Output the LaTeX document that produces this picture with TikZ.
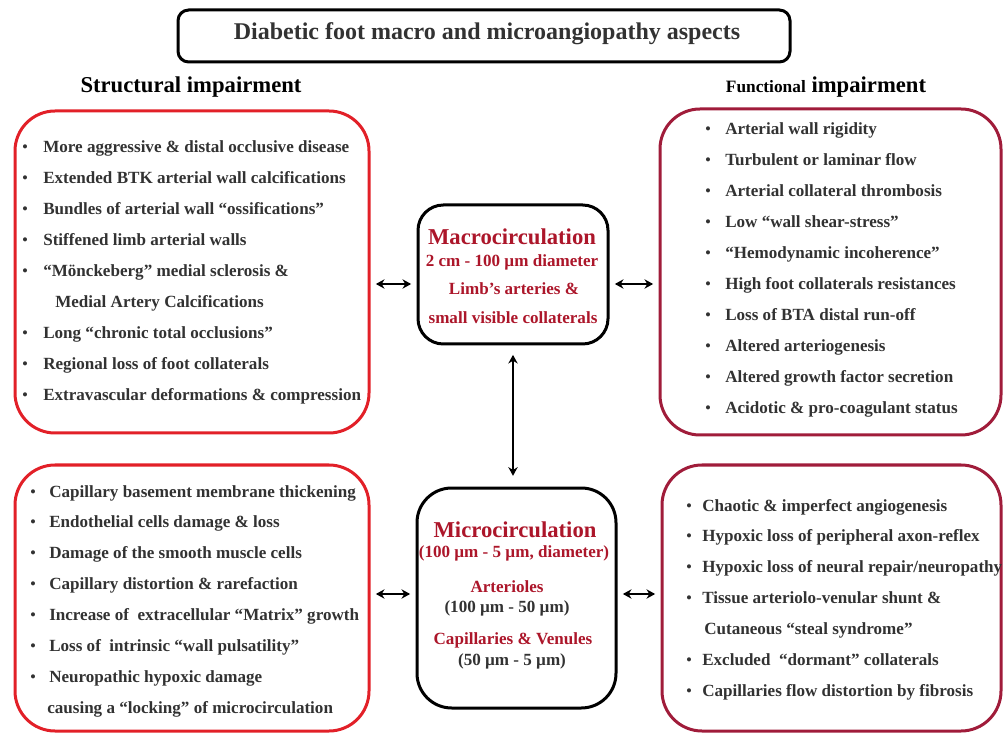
\documentclass[tikz,border=0pt]{standalone}
\usepackage{fontspec}
\setmainfont{Liberation Serif}
\usepackage{xcolor}
\definecolor{structred}{RGB}{226,32,40}
\definecolor{functred}{RGB}{160,28,58}
\definecolor{circred}{RGB}{172,22,42}
\definecolor{bodytext}{RGB}{50,50,50}
\usetikzlibrary{positioning}
\usetikzlibrary{fit}
\usetikzlibrary{arrows.meta}

\begin{document}
\begin{tikzpicture}[x=0.75pt, y=-0.75pt,
    frame/.style={draw, line width=2.25pt, rounded corners=30pt, inner sep=0pt},
    structbox/.style={frame, draw=structred},
    functbox/.style={frame, draw=functred},
    circbox/.style={frame, draw=black, rounded corners=19pt},
    item/.style={anchor=base west, inner sep=0pt, text=bodytext, font=\fontsize{12.8}{15}\selectfont\bfseries},
    dot/.style={anchor=base, inner sep=0pt, text=bodytext, font=\fontsize{12.8}{15}\selectfont},
    circhead/.style={inner sep=0pt, text=circred, font=\fontsize{17}{20}\selectfont\bfseries},
    circline/.style={inner sep=0pt, text=circred, font=\fontsize{12.8}{15}\selectfont\bfseries},
    sizeline/.style={inner sep=0pt, text=bodytext, font=\fontsize{12.8}{15}\selectfont\bfseries},
    link/.style={{Stealth[length=6.5pt,width=7pt]}-{Stealth[length=6.5pt,width=7pt]}, line width=1.5pt, shorten <=4pt, shorten >=4pt}]

    \useasboundingbox (0,0) rectangle (1004,734);

    % title and headings
    \node[frame, draw=black, rounded corners=8pt, fit={(178,10)(790,62)}] (title) {};
    \node[text=bodytext, font=\fontsize{18}{20}\selectfont\bfseries] (titletext) at (487,34) {Diabetic foot macro and microangiopathy aspects};
    \node[font=\fontsize{17}{20}\selectfont\bfseries] (structhead) at (191,87) {Structural impairment};
    \node[font=\fontsize{17}{20}\selectfont\bfseries] (functhead) at (826,87) {{\fontsize{13}{15}\selectfont Functional} impairment};

    % the four lists
    \node[structbox, fit={(15,111)(369,433)}] (structop) {};
    \node[functbox, fit={(660,109)(1001,435)}] (functop) {};
    \node[structbox, fit={(15,465)(369,731)}] (structbot) {};
    \node[functbox, fit={(662,465)(1001,731)}] (functbot) {};

    % the two circulations
    \node[circbox, fit={(418,205)(608,344)}] (macro) {};
    \node[circbox, rounded corners=26pt, fit={(417,488)(616,708)}] (micro) {};

    % structural, macro
    \foreach \n/\txt in {0/More aggressive \& distal occlusive disease,
                         1/Extended BTK arterial wall calcifications,
                         2/Bundles of arterial wall “ossifications”,
                         3/Stiffened limb arterial walls,
                         4/“Mönckeberg” medial sclerosis \&,
                         6/Long “chronic total occlusions”,
                         7/Regional loss of foot collaterals,
                         8/Extravascular deformations \& compression}{
        \node[item] (st-\n) at (43,153+30.9*\n) {\txt};
        \node[dot] (st-dot-\n) at (25,153+30.9*\n) {\textbullet};
    }
    \node[item] (st-5) at (55,153+30.9*5) {Medial Artery Calcifications};

    % functional, macro
    \foreach \n/\txt in {0/Arterial wall rigidity,
                         1/Turbulent or laminar flow,
                         2/Arterial collateral thrombosis,
                         3/Low “wall shear-stress”,
                         4/“Hemodynamic incoherence”,
                         5/High foot collaterals resistances,
                         6/Loss of BTA distal run-off,
                         7/Altered arteriogenesis,
                         8/Altered growth factor secretion,
                         9/Acidotic \& pro-coagulant status}{
        \node[item] (ft-\n) at (725,135+30.9*\n) {\txt};
        \node[dot] (ft-dot-\n) at (708,135+30.9*\n) {\textbullet};
    }

    % structural, micro
    \foreach \n/\txt in {0/Capillary basement membrane thickening,
                         1/Endothelial cells damage \& loss,
                         2/Damage of the smooth muscle cells,
                         3/Capillary distortion \& rarefaction,
                         4/Increase of\ \ extracellular “Matrix” growth,
                         5/Loss of\ \ intrinsic “wall pulsatility”,
                         6/Neuropathic hypoxic damage}{
        \node[item] (sb-\n) at (49,497+30.9*\n) {\txt};
        \node[dot] (sb-dot-\n) at (33,497+30.9*\n) {\textbullet};
    }
    \node[item] (sb-7) at (47,497+30.9*7) {causing a “locking” of microcirculation};

    % functional, micro
    \foreach \n/\txt in {0/Chaotic \& imperfect angiogenesis,
                         1/Hypoxic loss of peripheral axon-reflex,
                         2/{Hypoxic loss of neural repair/neuropathy},
                         3/Tissue arteriolo-venular shunt \&,
                         5/Excluded\ \ “dormant” collaterals,
                         6/Capillaries flow distortion by fibrosis}{
        \node[item] (fb-\n) at (702,511+30.9*\n) {\txt};
        \node[dot] (fb-dot-\n) at (689,511+30.9*\n) {\textbullet};
    }
    \node[item] (fb-4) at (704,511+30.9*4) {Cutaneous “steal syndrome”};

    % texts of the middle boxes
    \node[circhead] (macrohead) at (512,237) {Macrocirculation};
    \node[circline] (macrosize) at (512,262) {2 cm - 100 µm diameter};
    \node[circline] (macroline1) at (514,289) {Limb’s arteries \&};
    \node[circline] (macroline2) at (513,318) {small visible collaterals};

    \node[circhead] (microhead) at (515,530) {Microcirculation};
    \node[circline] (microsize) at (514,553) {(100 µm - 5 µm, diameter)};
    \node[circline] (arterioles) at (507,587) {Arterioles};
    \node[sizeline] (arteriolesize) at (507,608) {(100 µm - 50 µm)};
    \node[circline] (capillaries) at (513,640) {Capillaries \& Venules};
    \node[sizeline] (capillarysize) at (512,661) {(50 µm - 5 µm)};

    % connectors
    \coordinate (ytop) at (0,284);
    \coordinate (ybot) at (0,594);
    \draw[link] (structop.east |- ytop) -- (macro.west |- ytop);
    \draw[link] (macro.east |- ytop) -- (functop.west |- ytop);
    \draw[link, shorten <=7pt, shorten >=8pt] (macro.south) -- (micro.north -| macro.south);
    \draw[link] (structbot.east |- ybot) -- (micro.west |- ybot);
    \draw[link] (micro.east |- ybot) -- (functbot.west |- ybot);

\end{tikzpicture}
\end{document}
